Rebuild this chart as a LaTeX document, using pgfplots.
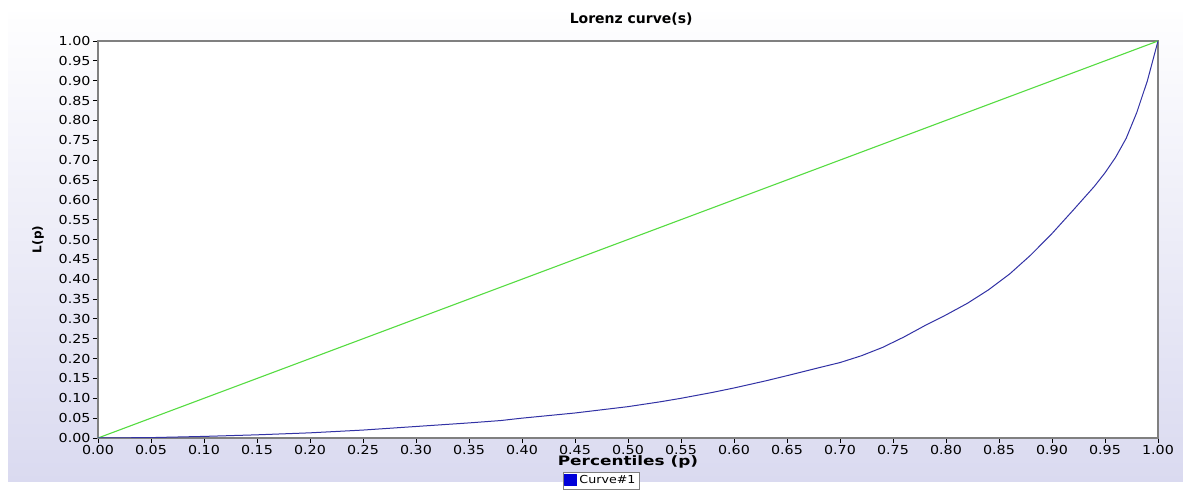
\documentclass[border=0pt]{standalone}
\usepackage{fontspec}
\setmainfont{DejaVu Sans}
\newfontfamily\tickfont[FakeStretch=1.15]{DejaVu Sans}
\newfontfamily\labfont[FakeStretch=1.3]{DejaVu Sans}
\usepackage{pgfplots}
\pgfplotsset{compat=1.18}
\definecolor{bgbot}{RGB}{218,218,240}
\definecolor{curveblue}{RGB}{50,50,165}
\definecolor{eqgreen}{RGB}{85,220,65}
\begin{document}
\begin{tikzpicture}[x=1pt,y=1pt]
\fill[white] (0,0) rectangle (1183,482);
\shade[top color=white!97!bgbot, bottom color=bgbot] (8,0) rectangle (1183,469);
\begin{axis}[
  at={(98pt,44pt)}, anchor=south west,
  scale only axis, width=1060pt, height=397pt,
  xmin=0, xmax=1, ymin=0, ymax=1,
  axis background/.style={fill=white},
  xtick={0,0.05,...,1.001}, ytick={0,0.05,...,1.001},
  xtick pos=left, ytick pos=left,
  tick align=outside, major tick length=5pt,
  tick style={black, line width=0.8pt},
  axis line style={draw=gray, line width=1.2pt},
  /pgf/number format/assume math mode=true,
  /pgf/number format/fixed, /pgf/number format/fixed zerofill,
  /pgf/number format/precision=2,
  ticklabel style={font=\tickfont\fontsize{12.4}{14}\selectfont},
  xticklabel style={yshift=1pt},
  yticklabel style={xshift=1pt},
  title={Lorenz curve(s)},
  title style={font=\bfseries\fontsize{14}{16}\selectfont, at={(axis description cs:0.503,1.040)}, anchor=center},
  xlabel={Percentiles (p)},
  xlabel style={font=\labfont\bfseries\fontsize{13}{15}\selectfont, at={(axis description cs:0.5,-0.0605)}, anchor=center},
  ylabel={L(p)},
  ylabel style={font=\bfseries\fontsize{12}{14}\selectfont, at={(axis description cs:-0.0566,0.5)}, anchor=center, rotate=0},
  legend style={at={(axis description cs:0.4745,-0.0856)}, anchor=north, draw=gray, fill=white,
    font=\tickfont\fontsize{11}{12}\selectfont, inner sep=1.5pt, row sep=0pt},
  legend image code/.code={\fill[blue!85!black] (0pt,-5pt) rectangle (12pt,6pt);},
]
\addplot[eqgreen, line width=1.1pt, forget plot] coordinates {(0,0) (1,1)};
\addplot[curveblue, line width=1pt, line join=round] coordinates {
(0,0) (0.05,0.001) (0.10,0.004) (0.15,0.008) (0.20,0.013) (0.25,0.020)
(0.30,0.029) (0.35,0.038) (0.38,0.044) (0.40,0.050) (0.45,0.063) (0.50,0.079)
(0.53,0.091) (0.55,0.100) (0.58,0.115) (0.60,0.126) (0.63,0.144) (0.65,0.157)
(0.68,0.177) (0.70,0.190) (0.72,0.207) (0.74,0.228) (0.76,0.254) (0.78,0.283)
(0.80,0.310) (0.82,0.339) (0.84,0.373) (0.86,0.413) (0.88,0.461) (0.90,0.515)
(0.92,0.574) (0.94,0.634) (0.95,0.668) (0.96,0.707) (0.97,0.755) (0.98,0.820)
(0.99,0.900) (1,1)};
\addlegendentry{Curve\#1}
\end{axis}
\end{tikzpicture}
\end{document}
